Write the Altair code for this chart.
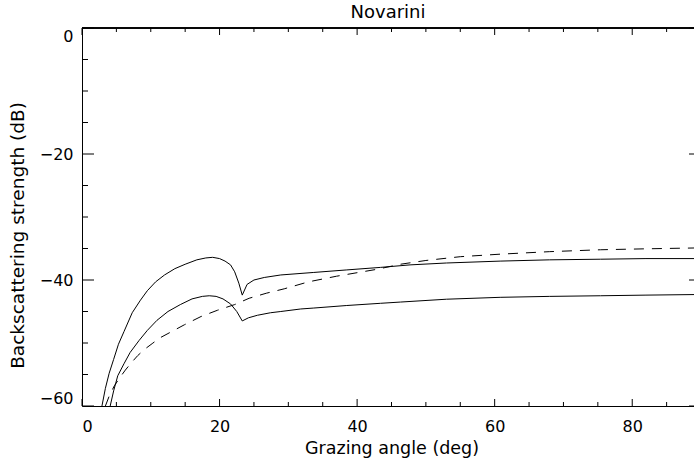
import altair as alt
import pandas as pd

# Upper solid curve
s1_x = [2.9, 3.4, 3.95, 4.6, 5.3, 6.1, 7.3, 8.5, 9.5, 10.7, 12.0, 13.5, 15.0, 16.7, 18.0, 19.0,
        20.0, 20.8, 21.6, 22.2, 22.8, 23.3, 24.0, 25.0, 26.5, 28.9, 33.7, 38.5, 43.4, 47.7,
        53.0, 60.8, 68.0, 75.4, 82.0, 90.0]
s1_y = [-60.0, -57.2, -54.8, -52.6, -50.2, -48.2, -45.2, -43.2, -41.7, -40.3, -39.2, -38.2, -37.5,
        -36.8, -36.5, -36.4, -36.6, -37.0, -37.6, -38.7, -40.5, -42.4, -40.7, -40.0, -39.6, -39.2,
        -38.8, -38.4, -38.0, -37.6, -37.3, -37.0, -36.8, -36.7, -36.6, -36.6]

# Lower solid curve
s2_x = [4.1, 4.6, 5.2, 6.1, 7.0, 8.3, 9.5, 10.9, 12.5, 14.3, 16.0, 17.5, 18.5, 19.5, 20.5, 21.6,
        22.5, 23.3, 24.2, 25.5, 27.4, 28.9, 31.8, 33.7, 38.5, 43.4, 46.3, 53.0, 60.8, 68.0, 75.4,
        82.0, 90.0]
s2_y = [-60.0, -57.6, -55.2, -53.3, -51.5, -49.6, -48.0, -46.4, -45.0, -43.9, -43.0, -42.6, -42.5,
        -42.6, -43.0, -43.8, -45.0, -46.5, -46.0, -45.6, -45.2, -45.0, -44.6, -44.45, -44.05, -43.7,
        -43.5, -43.05, -42.75, -42.6, -42.5, -42.4, -42.3]

# Dashed curve
s3_x = [3.4, 4.0, 4.7, 5.5, 6.3, 7.2, 8.1, 9.1, 10.2, 11.3, 12.5, 13.7, 14.9, 17.3, 19.7, 22.2,
        24.3, 26.8, 29.4, 32.9, 37.0, 42.9, 46.3, 50.0, 55.0, 60.8, 68.0, 75.4, 82.0, 90.0]
s3_y = [-60.0, -58.3, -56.8, -55.5, -54.3, -53.1, -52.0, -51.0, -50.1, -49.2, -48.5, -47.8, -47.1,
        -45.8, -44.8, -43.9, -42.9, -42.1, -41.4, -40.3, -39.4, -38.3, -37.5, -36.9, -36.3, -35.9,
        -35.5, -35.2, -35.05, -34.9]

x_major = [0, 20, 40, 60, 80]
x_minor = [5, 10, 15, 25, 30, 35, 45, 50, 55, 65, 70, 75, 85]
y_major = [0, -20, -40, -60]
y_minor = [-5, -10, -15, -25, -30, -35, -45, -50, -55]

FONT = "DejaVu Sans"
W, H = 612, 378
XR = 619

solid = pd.concat([
    pd.DataFrame({"x": s1_x, "y": s1_y, "s": "a"}),
    pd.DataFrame({"x": s2_x, "y": s2_y, "s": "b"}),
])
dashed = pd.DataFrame({"x": s3_x, "y": s3_y})

xs = alt.Scale(domain=[0, 90], range=[0, XR], nice=False, zero=False)
ys = alt.Scale(domain=[-60, 0], nice=False, zero=False)

x_axis = alt.Axis(values=x_major, ticks=False, grid=False, domainColor="black",
                  labelFont=FONT, labelFontSize=16, labelPadding=12, labelColor="black",
                  title="Grazing angle (deg)", titleFont=FONT, titleFontSize=17.5,
                  titleFontWeight="normal", titleColor="black", titleBaseline="alphabetic",
                  titleY=47)
y_axis = alt.Axis(values=y_major, ticks=False, grid=False, domainColor="black",
                  labelFont=FONT, labelFontSize=16, labelPadding=9, labelColor="black",
                  labelFlush=True,
                  title="Backscattering strength (dB)", titleFont=FONT, titleFontSize=18.5,
                  titleFontWeight="normal", titleColor="black", titleX=-65, titleY=207,
                  titleBaseline="middle", titleAlign="center")

X = alt.X("x:Q", scale=xs, axis=x_axis)
Y = alt.Y("y:Q", scale=ys, axis=y_axis)

solid_layer = alt.Chart(solid).mark_line(color="black", strokeWidth=1).encode(
    x=X, y=Y, detail="s:N",
)
dash_layer = alt.Chart(dashed).mark_line(color="black", strokeWidth=1, strokeDash=[10, 8]).encode(
    x=X, y=Y,
)

xmaj = pd.DataFrame({"x": x_major})
xmin = pd.DataFrame({"x": x_minor})
ymaj = pd.DataFrame({"y": y_major})
ymin = pd.DataFrame({"y": y_minor})


def xticks(df, y0, y1):
    return alt.Chart(df).mark_rule(color="black", strokeWidth=1).encode(
        x=X, y=alt.value(y0), y2=alt.value(y1))


def yticks(df, x0, x1):
    return alt.Chart(df).mark_rule(color="black", strokeWidth=1).encode(
        y=Y, x=alt.value(x0), x2=alt.value(x1))


top_line = alt.Chart(xmaj).mark_rule(color="black", strokeWidth=1).encode(
    x=alt.value(0), x2=alt.value(XR), y=alt.value(0))

chart = alt.layer(
    solid_layer, dash_layer,
    xticks(xmaj, H, H - 7), xticks(xmin, H, H - 4),
    xticks(xmaj, 0, 7), xticks(xmin, 0, 4),
    yticks(ymaj, 0, 12), yticks(ymin, 0, 6),
    yticks(ymaj, XR - 12, XR), yticks(ymin, XR - 6, XR),
    top_line,
).properties(
    width=W, height=H, background="white",
    title=alt.TitleParams("Novarini", font=FONT, fontSize=18, fontWeight="normal",
                          color="black", anchor="middle", offset=6),
    autosize=alt.AutoSizeParams(type="none"),
    padding={"left": 82, "top": 28, "right": 0, "bottom": 59},
).configure_view(stroke=None)

chart.save("out.html", embed_options={"renderer": "svg", "actions": False})
